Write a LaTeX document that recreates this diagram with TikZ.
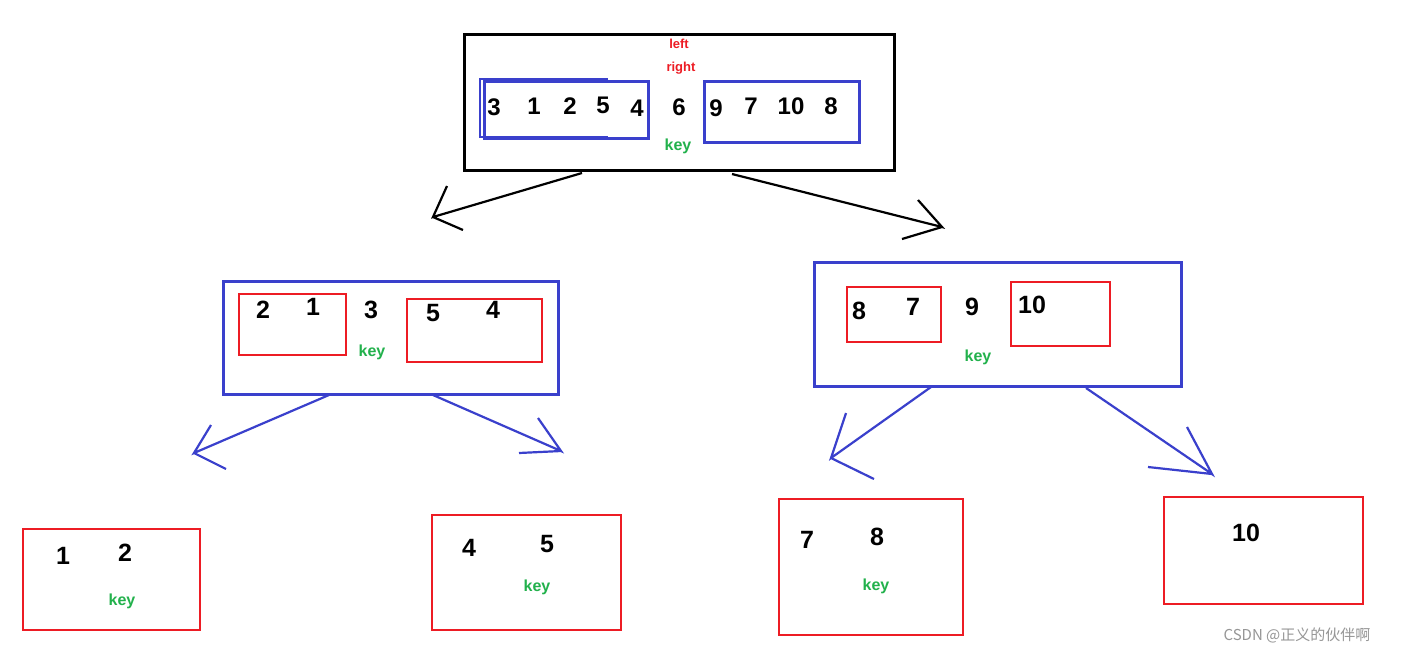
\documentclass[tikz,border=0pt]{standalone}
\usepackage{fontspec}
\setmainfont{Liberation Sans}
\newfontfamily\cjkfont{Noto Sans CJK SC}
\definecolor{bblue}{RGB}{58,64,204}
\definecolor{rred}{RGB}{237,28,36}
\definecolor{kgreen}{RGB}{34,177,76}
\definecolor{wgray}{RGB}{150,150,150}
\begin{document}
\begin{tikzpicture}[x=1pt,y=-1pt,
 box/.style={draw, rectangle, inner sep=0pt, anchor=north west},
 blkbox/.style={box, draw=black, line width=3pt},
 bluebox/.style={box, draw=bblue, line width=2.5pt},
 redbox/.style={box, draw=rred, line width=2.2pt},
 bluebracket/.style={draw=bblue, line width=2.5pt},
 num/.style={font=\bfseries\fontsize{24}{24}\selectfont, inner sep=0pt},
 bignum/.style={font=\bfseries\fontsize{25}{25}\selectfont, inner sep=0pt},
 keyt/.style={text=kgreen, font=\bfseries\fontsize{16}{16}\selectfont, inner sep=0pt},
 redt/.style={text=rred, font=\bfseries\fontsize{13}{13}\selectfont, inner sep=0pt},
 blkarrow/.style={draw=black, line width=2.2pt},
 bluearrow/.style={draw=bblue, line width=2.2pt},
]
\path[fill=white, use as bounding box] (0,0) rectangle (1402,654);

% ---- root
\node[blkbox, minimum width=430, minimum height=136] (root) at (463,33) {};
\coordinate (bk1) at (608,79); \coordinate (bk2) at (480,79);
\coordinate (bk3) at (480,137); \coordinate (bk4) at (608,137);
\draw[bluebracket] (bk1) -- (bk2) -- (bk3) -- (bk4);
\node[bluebox, minimum width=164, minimum height=57] (rootL) at (483,80) {};
\node[bluebox, minimum width=155, minimum height=61] (rootR) at (703,80) {};
\node[redt] (left) at (679,44) {left};
\node[redt] (right) at (681,68) {right};
\node[num] (a3) at (494,107) {3};
\node[num] (a1) at (534,106) {1};
\node[num] (a2) at (570,106) {2};
\node[num] (a5) at (603,105) {5};
\node[num] (a4) at (637,108) {4};
\node[num] (a6) at (679,107) {6};
\node[num] (a9) at (716,108) {9};
\node[num] (a7) at (751,106) {7};
\node[num] (a10) at (791,106) {10};
\node[num] (a8) at (831,106) {8};
\node[keyt] (rootkey) at (678,146) {key};

% ---- level 2 left
\node[bluebox, minimum width=335, minimum height=113] (L) at (222,280) {};
\node[redbox, minimum width=107, minimum height=61] (LL) at (238,293) {};
\node[redbox, minimum width=135, minimum height=63] (LR) at (406,298) {};
\node[bignum] (b2) at (263,310) {2};
\node[bignum] (b1) at (313,307) {1};
\node[bignum] (b3) at (371,310) {3};
\node[bignum] (b5) at (433,313) {5};
\node[bignum] (b4) at (493,310) {4};
\node[keyt] (Lkey) at (372,352) {key};

% ---- level 2 right
\node[bluebox, minimum width=367, minimum height=124] (R) at (813,261) {};
\node[redbox, minimum width=94, minimum height=55] (RL) at (846,286) {};
\node[redbox, minimum width=99, minimum height=64] (RR) at (1010,281) {};
\node[bignum] (c8) at (859,311) {8};
\node[bignum] (c7) at (913,307) {7};
\node[bignum] (c9) at (972,307) {9};
\node[bignum] (c10) at (1032,305) {10};
\node[keyt] (Rkey) at (978,357) {key};

% ---- leaves
\node[redbox, minimum width=177, minimum height=101] (LLL) at (22,528) {};
\node[bignum] (d1) at (63,556) {1};
\node[bignum] (d2) at (125,553) {2};
\node[keyt] (LLLkey) at (122,601) {key};

\node[redbox, minimum width=189, minimum height=115] (LRR) at (431,514) {};
\node[bignum] (e4) at (469,548) {4};
\node[bignum] (e5) at (547,544) {5};
\node[keyt] (LRRkey) at (537,587) {key};

\node[redbox, minimum width=184, minimum height=136] (RLL) at (778,498) {};
\node[bignum] (f7) at (807,540) {7};
\node[bignum] (f8) at (877,537) {8};
\node[keyt] (RLLkey) at (876,586) {key};

\node[redbox, minimum width=199, minimum height=107] (RRR) at (1163,496) {};
\node[bignum] (g10) at (1246,533) {10};

% ---- arrows (hand-drawn open heads)
\coordinate (p1s) at (582,173); \coordinate (p1t) at (433,217);
\coordinate (p1a) at (447,186); \coordinate (p1b) at (463,230);
\draw[blkarrow] (p1s) -- (p1t) -- (p1a) (p1t) -- (p1b);

\coordinate (p2s) at (732,174); \coordinate (p2t) at (942,227);
\coordinate (p2a) at (918,200); \coordinate (p2b) at (902,239);
\draw[blkarrow] (p2s) -- (p2t) -- (p2a) (p2t) -- (p2b);

\coordinate (q1s) at (329,395); \coordinate (q1t) at (194,453);
\coordinate (q1a) at (211,425); \coordinate (q1b) at (226,469);
\draw[bluearrow] (q1s) -- (q1t) -- (q1a) (q1t) -- (q1b);

\coordinate (q2s) at (433,395); \coordinate (q2t) at (561,451);
\coordinate (q2a) at (538,418); \coordinate (q2b) at (519,453);
\draw[bluearrow] (q2s) -- (q2t) -- (q2a) (q2t) -- (q2b);

\coordinate (r1s) at (931,387); \coordinate (r1t) at (831,458);
\coordinate (r1a) at (846,413); \coordinate (r1b) at (874,479);
\draw[bluearrow] (r1s) -- (r1t) -- (r1a) (r1t) -- (r1b);

\coordinate (r2s) at (1086,388); \coordinate (r2t) at (1212,474);
\coordinate (r2a) at (1187,427); \coordinate (r2b) at (1148,467);
\draw[bluearrow] (r2s) -- (r2t) -- (r2a) (r2t) -- (r2b);

% ---- watermark
\node[text=wgray, font=\cjkfont\fontsize{15}{15}\selectfont, inner sep=0pt] (wm) at (1297,635) {CSDN @正义的伙伴啊};
\end{tikzpicture}
\end{document}
